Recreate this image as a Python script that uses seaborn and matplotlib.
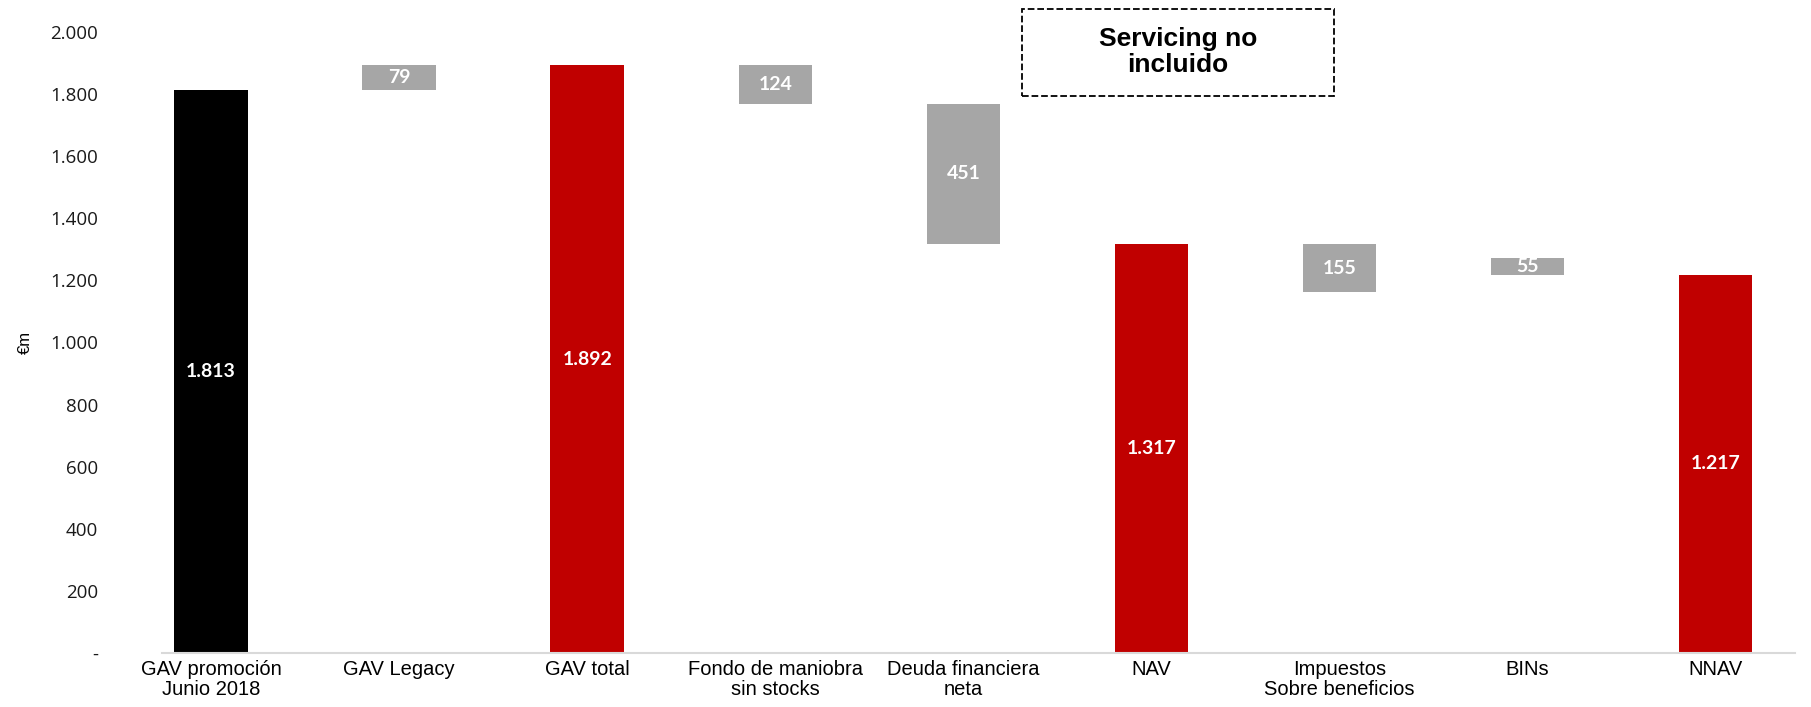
import matplotlib
matplotlib.use("Agg")
import matplotlib.pyplot as plt
import seaborn as sns
import pandas as pd
from matplotlib.patches import Rectangle
from matplotlib.ticker import FuncFormatter

# datos del puente GAV -> NNAV (€m)
categorias = ["GAV promoción\nJunio 2018", "GAV Legacy", "GAV total",
              "Fondo de maniobra\nsin stocks", "Deuda financiera\nneta", "NAV",
              "Impuestos\nSobre beneficios", "BINs", "NNAV"]
valores = [1813, 79, 1892, 124, 451, 1317, 155, 55, 1217]
bases = [0, 1813, 0, 1768, 1317, 0, 1162, 1217, 0]
colores = ["#000000", "#A6A6A6", "#C00000", "#A6A6A6", "#A6A6A6",
           "#C00000", "#A6A6A6", "#A6A6A6", "#C00000"]
yticks = [0, 200, 400, 600, 800, 1000, 1200, 1400, 1600, 1800, 2000]

df = pd.DataFrame({"cat": categorias, "valor": valores, "base": bases})
df["tope"] = df["base"] + df["valor"]

sns.set_theme(style="white")
plt.rcParams["font.family"] = ["Liberation Sans Narrow", "Liberation Sans", "DejaVu Sans"]
plt.rcParams["text.color"] = "black"

fig = plt.figure(figsize=(18.11, 7.07), dpi=100)
ax = fig.add_axes([0.0895, 0.0764, 0.9015, 0.8786])

ancho = 0.39
sns.barplot(data=df, x="cat", y="tope", hue="cat", order=categorias,
            palette=colores, saturation=1, width=ancho, linewidth=0,
            legend=False, ax=ax)
# tapa blanca para dejar las barras flotantes
sns.barplot(data=df, x="cat", y="base", order=categorias, color="white",
            saturation=1, width=ancho, linewidth=0, ax=ax)

for i, r in df.iterrows():
    txt = f"{r['valor']:,}".replace(",", ".")
    ax.text(i, r["base"] + r["valor"] / 2, txt, ha="center", va="center",
            color="white", fontsize=14, fontweight="bold", family=["Lato", "DejaVu Sans"])

ax.set_ylim(0, 2000)
ax.set_xlim(-0.26, 8.42)
ax.set_yticks(yticks)
ax.yaxis.set_major_formatter(FuncFormatter(
    lambda v, p: "-" if v == 0 else f"{int(v):,}".replace(",", ".")))
for lab in ax.get_yticklabels():
    lab.set_family(["Open Sans", "DejaVu Sans"])
    lab.set_fontsize(13.5)
    lab.set_color("#1a1a1a")
ax.tick_params(axis="y", length=0, pad=46)
ax.tick_params(axis="x", length=0, pad=5, labelsize=14.5, colors="black")
for lab in ax.get_xticklabels():
    lab.set_linespacing(1.05)

ax.set_xlabel("")
ax.set_ylabel("€m", fontsize=12, color="black", family=["Liberation Sans", "DejaVu Sans"])
ax.yaxis.set_label_coords(-0.079, 0.5)

for s in ["top", "right", "left"]:
    ax.spines[s].set_visible(False)
ax.spines["bottom"].set_color("#D9D9D9")
ax.spines["bottom"].set_linewidth(1.5)

# recuadro de nota
fig.patches.append(Rectangle((0.5643, 0.8642), 0.1723, 0.1231, transform=fig.transFigure,
                             fill=False, edgecolor="black", linestyle="--", linewidth=1.3))
fig.text(0.6505, 0.9265, "Servicing no\nincluido", ha="center", va="center",
         fontsize=19, fontweight="bold", color="black",
         family=["Liberation Sans", "DejaVu Sans"], linespacing=1.15)

fig.savefig("out.png", dpi=100)
